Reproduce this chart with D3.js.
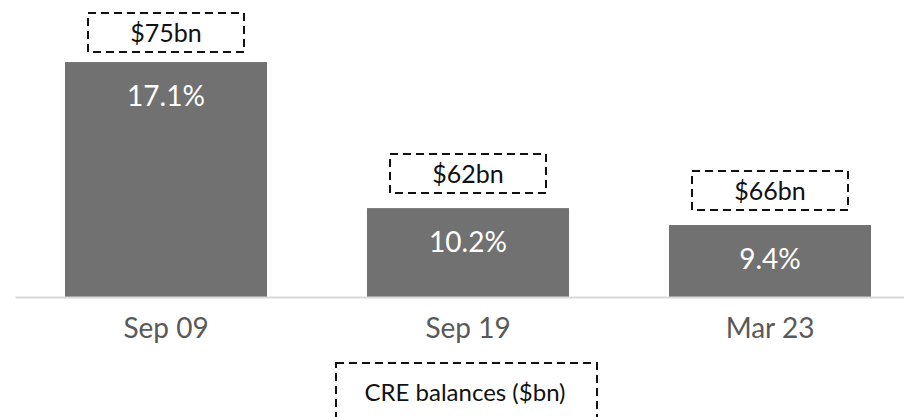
<!DOCTYPE html>
<html>
<head>
<meta charset="utf-8">
<script src="https://cdn.jsdelivr.net/npm/d3@7"></script>
<style>
  body { margin: 0; background: #fff; }
  svg { display: block; font-family: Lato, "Open Sans", sans-serif; }
</style>
</head>
<body>
<div id="chart-container"></div>
<script>
// Data.
const periods = ["Sep 09", "Sep 19", "Mar 23"];
const shares = [17.1, 10.2, 9.4];          // % shown inside bars
const balances = [75, 62, 66];             // CRE balances, $bn
const legendLabel = "CRE balances ($bn)";

// Chart dimensions.
const width = 904;
const height = 417;
const baseY = 297;

const x = d3.scaleBand()
    .domain(periods)
    .range([15, 921])
    .paddingInner(0.331)
    .paddingOuter(0.1655);

// The value axis does not start at zero in the original.
const y = d3.scaleLinear()
    .domain([6, 18])
    .range([baseY, 43]);

const svg = d3.create("svg")
    .attr("width", width)
    .attr("height", height);

// Bars.
svg.append("g")
  .selectAll("rect")
  .data(shares)
  .join("rect")
    .attr("x", (d, i) => x(periods[i]))
    .attr("y", d => y(d))
    .attr("width", x.bandwidth())
    .attr("height", d => baseY - y(d))
    .attr("fill", "#717171");

// Percent labels inside the bars.
svg.append("g")
  .selectAll("text")
  .data(shares)
  .join("text")
    .attr("x", (d, i) => x(periods[i]) + x.bandwidth() / 2)
    .attr("y", d => y(d) + 44)
    .attr("text-anchor", "middle")
    .attr("fill", "#fff")
    .attr("font-size", 28)
    .text(d => d.toFixed(1) + "%");

// Category axis.
const axis = svg.append("g")
    .attr("transform", `translate(0,${baseY})`)
    .call(d3.axisBottom(x).tickSize(0).tickSizeOuter(0).tickPadding(21));
axis.select(".domain")
    .attr("stroke", "#d9d9d9")
    .attr("stroke-width", 2);
axis.selectAll(".tick text")
    .attr("font-family", "Lato, sans-serif")
    .attr("font-size", 28)
    .attr("fill", "#595959");

// Dashed balance boxes above the bars.
const boxW = 156;
const boxH = 39;
const boxY = d => Math.max(13, y(d) - 15 - boxH);

const boxes = svg.append("g")
  .selectAll("g")
  .data(balances)
  .join("g")
    .attr("transform", (d, i) =>
      `translate(${x(periods[i]) + x.bandwidth() / 2},${boxY(shares[i])})`);

boxes.append("rect")
    .attr("x", -boxW / 2)
    .attr("width", boxW)
    .attr("height", boxH)
    .attr("fill", "none")
    .attr("stroke", "#111")
    .attr("stroke-width", 2)
    .attr("stroke-dasharray", "8 5");

boxes.append("text")
    .attr("y", boxH / 2)
    .attr("dy", "0.36em")
    .attr("text-anchor", "middle")
    .attr("font-size", 25)
    .attr("fill", "#111")
    .text(d => `$${d}bn`);

// Legend box under the axis.
const legend = svg.append("g")
    .attr("transform", "translate(336,363)");
legend.append("rect")
    .attr("width", 261)
    .attr("height", 60)
    .attr("fill", "none")
    .attr("stroke", "#111")
    .attr("stroke-width", 2)
    .attr("stroke-dasharray", "8 5");
legend.append("text")
    .attr("x", 129)
    .attr("y", 38)
    .attr("text-anchor", "middle")
    .attr("font-size", 24)
    .attr("fill", "#111")
    .text(legendLabel);

d3.select("#chart-container").append(() => svg.node());
</script>
</body>
</html>
